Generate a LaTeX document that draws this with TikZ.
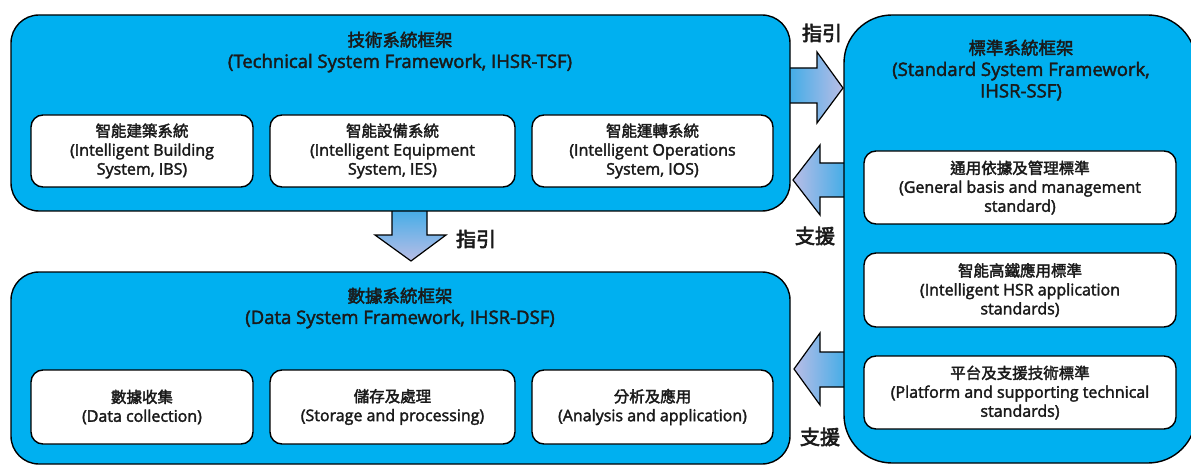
\documentclass[tikz,border=0pt]{standalone}
\usepackage{fontspec}
\setmainfont{Open Sans}
\newfontfamily\cjk{Noto Sans CJK TC}
% fill-and-stroke text rendering for a slightly heavier stroke weight
\newcommand\heavier[1]{\special{pdf:literal direct 2 Tr #1 w}}
\definecolor{frameblue}{HTML}{00B0F0}
\definecolor{arrowblue}{HTML}{22A8E8}
\definecolor{arrowlav}{HTML}{B9BDE6}
\definecolor{ink}{HTML}{1A1A1A}
\tikzset{
  frame/.style={draw=black, line width=1.4pt, fill=frameblue, inner sep=0pt},
  item/.style={draw=black, line width=1.4pt, fill=white, rounded corners=12pt, inner sep=0pt},
  itemtext/.style={align=center, text=ink, font=\fontsize{16}{19}\selectfont\heavier{0.35}},
  titletext/.style={align=center, text=ink, font=\fontsize{18.5}{21.5}\selectfont\heavier{0.4}},
  arrowlabel/.style={text=ink, font=\cjk\fontsize{20}{22}\selectfont\heavier{0.6}},
  blockarrow/.style={draw=black, line width=1.2pt, line join=miter},
}
\newcommand\titlecjk{\cjk\fontsize{17.5}{21.5}\selectfont}
\newcommand\itemcjk{\cjk\fontsize{15.5}{19}\selectfont}
\begin{document}
\begin{tikzpicture}[x=1pt,y=-1pt]
\useasboundingbox (0,0) rectangle (1191,465);

% ---- block arrows (drawn first, so the frames cover their tails)
\path[blockarrow, left color=arrowblue, right color=arrowlav]
  (775,68) -- (817,68) -- (817,52) -- (843,88) -- (817,123) -- (817,103) -- (775,103) -- cycle;
\path[blockarrow, left color=arrowlav, right color=arrowblue]
  (860,163) -- (820,163) -- (820,145) -- (793,180) -- (820,215) -- (820,197) -- (860,197) -- cycle;
\path[blockarrow, left color=arrowlav, right color=arrowblue]
  (860,352) -- (820,352) -- (820,333) -- (794,369) -- (820,405) -- (820,387) -- (860,387) -- cycle;
\path[blockarrow, top color=arrowblue, bottom color=arrowlav]
  (392,195) -- (392,235) -- (375,235) -- (411,261) -- (446,235) -- (427,235) -- (427,195) -- cycle;

% ---- frames
\node[frame, rounded corners=28pt, minimum width=779pt, minimum height=196pt] (tsf) at (400.5,113) {};
\node[frame, rounded corners=28pt, minimum width=779pt, minimum height=192pt] (dsf) at (400.5,368) {};
\node[frame, rounded corners=48pt, minimum width=352pt, minimum height=448pt] (ssf) at (1020,239) {};

% ---- frame titles
\node[titletext] (tsftitle) at (400,52) {{\titlecjk 技術系統框架}\\(Technical System Framework, IHSR-TSF)};
\node[titletext] (dsftitle) at (400,308) {{\titlecjk 數據系統框架}\\(Data System Framework, IHSR-DSF)};
\node[titletext] (ssftitle) at (1021,70) {{\titlecjk 標準系統框架}\\(Standard System Framework,\\IHSR-SSF)};

% ---- technical system items
\node[item, minimum width=222pt, minimum height=72pt] (ibs) at (142,151) {};
\node[itemtext] at (ibs) {{\itemcjk 智能建築系統}\\(Intelligent Building\\System, IBS)};
\node[item, minimum width=245pt, minimum height=72pt] (ies) at (392.5,151) {};
\node[itemtext] at (ies) {{\itemcjk 智能設備系統}\\(Intelligent Equipment\\System, IES)};
\node[item, minimum width=241pt, minimum height=72pt] (ios) at (652.5,151) {};
\node[itemtext] at (ios) {{\itemcjk 智能運轉系統}\\(Intelligent Operations\\System, IOS)};

% ---- data system items
\node[item, minimum width=222pt, minimum height=74pt] (dc) at (142,407) {};
\node[itemtext] at (dc) {{\itemcjk 數據收集}\\(Data collection)};
\node[item, minimum width=245pt, minimum height=74pt] (sp) at (392.5,407) {};
\node[itemtext] at (sp) {{\itemcjk 儲存及處理}\\(Storage and processing)};
\node[item, minimum width=241pt, minimum height=74pt] (aa) at (652.5,407) {};
\node[itemtext] at (aa) {{\itemcjk 分析及應用}\\(Analysis and application)};

% ---- standard system items
\node[item, minimum width=312pt, minimum height=73pt] (gb) at (1020,187.5) {};
\node[itemtext] at (gb) {{\itemcjk 通用依據及管理標準}\\(General basis and management\\standard)};
\node[item, minimum width=312pt, minimum height=74pt] (hsr) at (1020,290) {};
\node[itemtext] at (hsr) {{\itemcjk 智能高鐵應用標準}\\(Intelligent HSR application\\standards)};
\node[item, minimum width=312pt, minimum height=73pt] (pst) at (1020,392.5) {};
\node[itemtext] at (pst) {{\itemcjk 平台及支援技術標準}\\(Platform and supporting technical\\standards)};

% ---- arrow labels
\node[arrowlabel] (guide1) at (822,33) {指引};
\node[arrowlabel] (guide2) at (476,239) {指引};
\node[arrowlabel] (support1) at (815,236) {支援};
\node[arrowlabel] (support2) at (820,437) {支援};
\end{tikzpicture}
\end{document}
